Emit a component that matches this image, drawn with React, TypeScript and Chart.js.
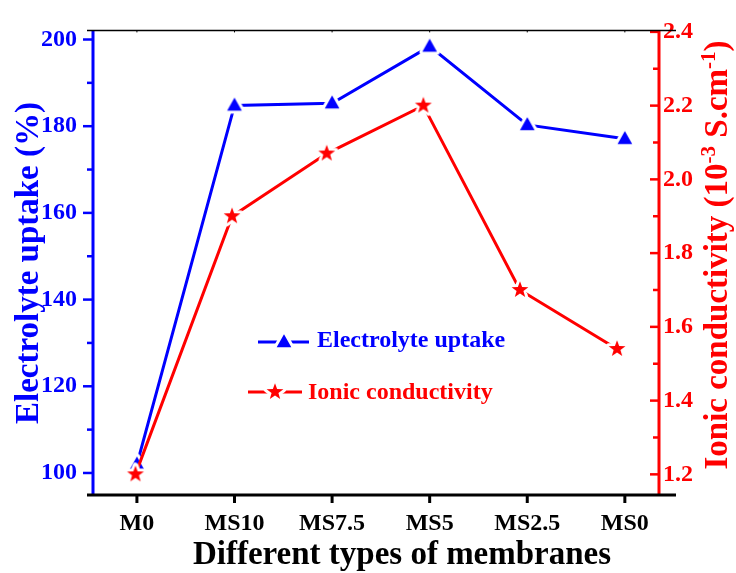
import React, { useEffect, useRef } from "react";
import { Chart, registerables } from "chart.js";

Chart.register(...registerables);

// ---- data ----
const categories = ["M0", "MS10", "MS7.5", "MS5", "MS2.5", "MS0"];
const uptakeX = [0, 1, 2, 3, 4, 5];
const uptake = [102, 184.8, 185.3, 198.4, 180.3, 177.1];
const conductivityX = [-0.015, 0.975, 1.945, 2.935, 3.925, 4.92];
const conductivity = [1.2, 1.9, 2.07, 2.2, 1.7, 1.54];
const leftTicks = [100, 120, 140, 160, 180, 200];
const leftMinor = [110, 130, 150, 170, 190];
const rightTicks = [1.2, 1.4, 1.6, 1.8, 2.0, 2.2, 2.4];
const rightMinor = [1.3, 1.5, 1.7, 1.9, 2.1, 2.3];

const BLUE = "#0000ff";
const RED = "#ff0000";
const FAMILY = '"Liberation Serif", "Times New Roman", serif';

function makeMarker(kind: "tri" | "star", color: string) {
  const c = document.createElement("canvas");
  c.width = 30;
  c.height = 30;
  const g = c.getContext("2d")!;
  g.translate(15, 15);
  g.beginPath();
  if (kind === "tri") {
    g.moveTo(0, -7.8);
    g.lineTo(7.3, 5.3);
    g.lineTo(-7.3, 5.3);
    g.closePath();
  } else {
    const R = 8.8;
    const r = 3.6;
    for (let i = 0; i < 10; i++) {
      const ang = -Math.PI / 2 + (i * Math.PI) / 5;
      const rad = i % 2 === 0 ? R : r;
      const px = Math.cos(ang) * rad;
      const py = Math.sin(ang) * rad;
      if (i === 0) g.moveTo(px, py);
      else g.lineTo(px, py);
    }
    g.closePath();
  }
  g.lineJoin = "round";
  g.strokeStyle = "#ffffff";
  g.lineWidth = 6;
  g.stroke();
  g.fillStyle = color;
  g.fill();
  return c;
}

function drawRotatedTitle(
  ctx: CanvasRenderingContext2D,
  parts: { text: string; size: number; rise: number }[],
  baselineX: number,
  centerY: number,
  color: string
) {
  ctx.save();
  ctx.translate(baselineX, centerY);
  ctx.rotate(-Math.PI / 2);
  ctx.fillStyle = color;
  ctx.textBaseline = "alphabetic";
  ctx.textAlign = "left";
  let total = 0;
  parts.forEach((p) => {
    ctx.font = `bold ${p.size}px ${FAMILY}`;
    total += ctx.measureText(p.text).width;
  });
  let x = -total / 2;
  parts.forEach((p) => {
    ctx.font = `bold ${p.size}px ${FAMILY}`;
    ctx.fillText(p.text, x, -p.rise);
    x += ctx.measureText(p.text).width;
  });
  ctx.restore();
}

export default function App() {
  const ref = useRef<HTMLCanvasElement | null>(null);

  useEffect(() => {
    if (!ref.current) return;
    const triImg = makeMarker("tri", BLUE);
    const starImg = makeMarker("star", RED);

    const framePlugin = {
      id: "framePlugin",
      afterDraw(chart: any) {
        const { ctx, chartArea: a, scales } = chart;
        const xs = scales.x;
        const yl = scales.y;
        const yr = scales.y1;
        const line = (x1: number, y1: number, x2: number, y2: number) => {
          ctx.beginPath();
          ctx.moveTo(x1, y1);
          ctx.lineTo(x2, y2);
          ctx.stroke();
        };
        ctx.save();
        ctx.lineCap = "butt";
        // left blue axis
        ctx.strokeStyle = BLUE;
        ctx.lineWidth = 3;
        line(a.left, a.top, a.left, a.bottom);
        ctx.lineWidth = 2.5;
        leftTicks.forEach((v) => {
          const py = yl.getPixelForValue(v);
          line(a.left - 10, py, a.left, py);
        });
        leftMinor.forEach((v) => {
          const py = yl.getPixelForValue(v);
          line(a.left - 6, py, a.left, py);
        });
        // right red axis (ticks inward)
        ctx.strokeStyle = RED;
        ctx.lineWidth = 3;
        line(a.right, a.top, a.right, a.bottom);
        ctx.lineWidth = 2.5;
        rightTicks.forEach((v) => {
          const py = yr.getPixelForValue(v);
          line(a.right - 9, py, a.right, py);
        });
        rightMinor.forEach((v) => {
          const py = yr.getPixelForValue(v);
          line(a.right - 6, py, a.right, py);
        });
        // black frame lines
        ctx.strokeStyle = "#000";
        ctx.lineWidth = 1.5;
        line(a.left - 6, a.top, a.right + 17, a.top);
        ctx.lineWidth = 3;
        line(a.left - 6, a.bottom, a.right + 17, a.bottom);
        categories.forEach((_, i) => {
          const px = xs.getPixelForValue(uptakeX[i]);
          ctx.lineWidth = 3;
          line(px, a.bottom, px, a.bottom + 8);
          ctx.lineWidth = 1;
          line(px, a.top, px, a.top + 2);
        });

        // axis titles
        ctx.fillStyle = "#000";
        ctx.font = `bold 33px ${FAMILY}`;
        ctx.textAlign = "center";
        ctx.textBaseline = "alphabetic";
        ctx.fillText("Different types of membranes", 402, 564);

        drawRotatedTitle(
          ctx,
          [{ text: "Electrolyte uptake (%)", size: 33, rise: 0 }],
          38,
          263,
          BLUE
        );
        drawRotatedTitle(
          ctx,
          [
            { text: "Ionic conductivity (10", size: 33, rise: 0 },
            { text: "-3", size: 21, rise: 12 },
            { text: " S.cm", size: 33, rise: 0 },
            { text: "-1", size: 21, rise: 12 },
            { text: ")", size: 33, rise: 0 },
          ],
          727,
          255,
          RED
        );

        // legend
        const ds = chart.data.datasets;
        const entries = [
          { x1: 258, x2: 309, cx: 284, y: 342, tx: 317, ty: 347, img: triImg, color: BLUE, label: ds[0].label },
          { x1: 248, x2: 302, cx: 275, y: 392, tx: 308, ty: 399, img: starImg, color: RED, label: ds[1].label },
        ];
        entries.forEach((e) => {
          ctx.strokeStyle = e.color;
          ctx.lineWidth = 3;
          line(e.x1, e.y, e.x2, e.y);
          ctx.drawImage(e.img, e.cx - e.img.width / 2, e.y - e.img.height / 2);
          ctx.fillStyle = e.color;
          ctx.font = `bold 24px ${FAMILY}`;
          ctx.textAlign = "left";
          ctx.textBaseline = "alphabetic";
          ctx.fillText(e.label, e.tx, e.ty);
        });
        ctx.restore();
      },
    };

    const tickFont = { family: FAMILY, weight: "bold" as const, size: 24 };

    const chart = new Chart(ref.current, {
      type: "line",
      data: {
        datasets: [
          {
            label: "Electrolyte uptake",
            data: uptakeX.map((x, i) => ({ x, y: uptake[i] })),
            yAxisID: "y",
            borderColor: BLUE,
            backgroundColor: BLUE,
            borderWidth: 3,
            pointStyle: triImg,
            pointRadius: 8,
            fill: false,
            order: 1,
          },
          {
            label: "Ionic conductivity",
            data: conductivityX.map((x, i) => ({ x, y: conductivity[i] })),
            yAxisID: "y1",
            borderColor: RED,
            backgroundColor: RED,
            borderWidth: 3,
            pointStyle: starImg,
            pointRadius: 8,
            fill: false,
            order: 0,
          },
        ],
      },
      options: {
        responsive: false,
        animation: false,
        events: [],
        layout: { padding: { top: 20, left: 0, right: 0, bottom: 0 } },
        plugins: {
          legend: { display: false },
          tooltip: { enabled: false },
        },
        scales: {
          x: {
            type: "linear",
            min: -0.45,
            max: 5.35,
            afterBuildTicks: (s: any) => {
              s.ticks = uptakeX.map((v) => ({ value: v }));
            },
            afterFit: (s: any) => {
              s.height = 78;
            },
            ticks: {
              autoSkip: false,
              maxRotation: 0,
              color: "#000",
              font: tickFont,
              padding: 14,
              callback: (v: any) => categories[Math.round(Number(v))] ?? "",
            },
            grid: { display: false, drawTicks: false },
            border: { display: false },
          },
          y: {
            position: "left",
            min: 94.92,
            max: 202.1,
            afterBuildTicks: (s: any) => {
              s.ticks = leftTicks.map((v) => ({ value: v }));
            },
            afterFit: (s: any) => {
              s.width = 93;
            },
            ticks: {
              color: BLUE,
              font: tickFont,
              padding: 16,
              callback: (v: any) => String(v),
            },
            grid: { display: false, drawTicks: false },
            border: { display: false },
          },
          y1: {
            position: "right",
            min: 1.144,
            max: 2.404,
            afterBuildTicks: (s: any) => {
              s.ticks = rightTicks.map((v) => ({ value: v }));
            },
            afterFit: (s: any) => {
              s.width = 77;
            },
            ticks: {
              color: RED,
              font: tickFont,
              padding: 4,
              callback: (v: any) => Number(v).toFixed(1),
            },
            grid: { display: false, drawTicks: false },
            border: { display: false },
          },
        },
      },
      plugins: [framePlugin],
    });
    return () => chart.destroy();
  }, []);

  return (
    <div
      style={{
        position: "fixed",
        left: 0,
        top: 0,
        width: 736,
        height: 573,
        background: "#fff",
      }}
    >
      <canvas
        ref={ref}
        width={736}
        height={573}
        style={{ display: "block", width: 736, height: 573 }}
      />
    </div>
  );
}
